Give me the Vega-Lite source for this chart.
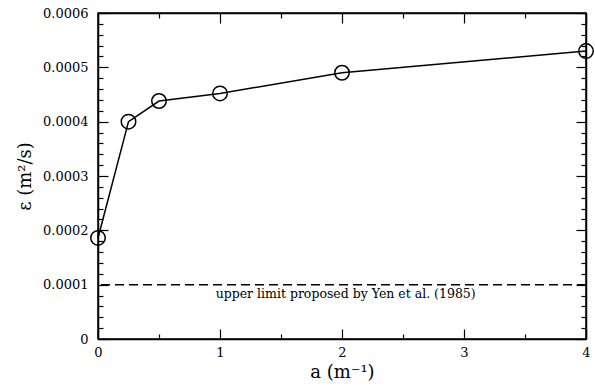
{
  "$schema": "https://vega.github.io/schema/vega-lite/v6.json",
  "autosize": "none",
  "width": 488,
  "height": 326,
  "padding": {"left": 98, "top": 13, "right": 9, "bottom": 52},
  "background": "white",
  "config": {
    "font": "DejaVu Serif",
    "view": {"stroke": "black", "strokeWidth": 1.5},
    "axis": {
      "domainColor": "black",
      "domainWidth": 1.5,
      "tickColor": "black",
      "tickWidth": 1.2,
      "grid": false,
      "labelFont": "DejaVu Serif",
      "labelFontSize": 13,
      "labelColor": "black",
      "titleFont": "DejaVu Serif",
      "titleFontSize": 18,
      "titleFontWeight": "normal",
      "titleColor": "black"
    }
  },
  "datasets": {
    "eps": [
      {"a": 0, "eps": 0.000186},
      {"a": 0.25, "eps": 0.0004},
      {"a": 0.5, "eps": 0.000438},
      {"a": 1, "eps": 0.000452},
      {"a": 2, "eps": 0.00049},
      {"a": 4, "eps": 0.00053}
    ],
    "note": [
      {"a": 2.03, "eps": 0.0001, "label": "upper limit proposed by Yen et al. (1985)"}
    ]
  },
  "layer": [
    {
      "data": {"name": "eps"},
      "mark": {"type": "line", "color": "black", "strokeWidth": 1.5},
      "encoding": {
        "x": {
          "field": "a", "type": "quantitative",
          "scale": {"domain": [0, 4], "nice": false, "zero": false},
          "axis": {
            "orient": "bottom",
            "title": "a (m⁻¹)",
            "titlePadding": 4,
            "values": [0, 0.5, 1, 1.5, 2, 2.5, 3, 3.5, 4],
            "tickSize": {"condition": {"test": "datum.value % 1 === 0", "value": -10}, "value": -5},
            "labelExpr": "datum.value % 1 === 0 ? format(datum.value, 'd') : ''",
            "labelPadding": 17,
            "labelFlush": false
          }
        },
        "y": {
          "field": "eps", "type": "quantitative",
          "scale": {"domain": [0, 0.0006], "nice": false, "zero": true},
          "axis": {
            "orient": "left",
            "title": "ε (m²/s)",
            "titlePadding": 8,
            "values": [0, 0.00002, 0.00004, 0.00006, 0.00008, 0.0001, 0.00012, 0.00014, 0.00016, 0.00018, 0.0002, 0.00022, 0.00024, 0.00026, 0.00028, 0.0003, 0.00032, 0.00034, 0.00036, 0.00038, 0.0004, 0.00042, 0.00044, 0.00046, 0.00048, 0.0005, 0.00052, 0.00054, 0.00056, 0.00058, 0.0006],
            "tickSize": {"condition": {"test": "abs(datum.value * 10000 - round(datum.value * 10000)) < 0.001", "value": -10}, "value": -5},
            "labelExpr": "abs(datum.value * 10000 - round(datum.value * 10000)) < 0.001 ? (datum.value == 0 ? '0' : format(datum.value, '.4f')) : ''",
            "labelPadding": 20,
            "labelFlush": false
          }
        }
      }
    },
    {
      "data": {"name": "eps"},
      "mark": {"type": "point", "shape": "circle", "filled": false, "color": "black", "size": 210, "strokeWidth": 1.5, "opacity": 1},
      "encoding": {
        "x": {
          "field": "a", "type": "quantitative",
          "scale": {"domain": [0, 4], "nice": false, "zero": false},
          "axis": {
            "orient": "top",
            "title": null,
            "labels": false,
            "values": [0, 0.5, 1, 1.5, 2, 2.5, 3, 3.5, 4],
            "tickSize": {"condition": {"test": "datum.value % 1 === 0", "value": -10}, "value": -5}
          }
        },
        "y": {
          "field": "eps", "type": "quantitative",
          "scale": {"domain": [0, 0.0006], "nice": false, "zero": true},
          "axis": {
            "orient": "right",
            "title": null,
            "labels": false,
            "values": [0, 0.00002, 0.00004, 0.00006, 0.00008, 0.0001, 0.00012, 0.00014, 0.00016, 0.00018, 0.0002, 0.00022, 0.00024, 0.00026, 0.00028, 0.0003, 0.00032, 0.00034, 0.00036, 0.00038, 0.0004, 0.00042, 0.00044, 0.00046, 0.00048, 0.0005, 0.00052, 0.00054, 0.00056, 0.00058, 0.0006],
            "tickSize": {"condition": {"test": "abs(datum.value * 10000 - round(datum.value * 10000)) < 0.001", "value": -10}, "value": -5}
          }
        }
      }
    },
    {
      "data": {"name": "note"},
      "mark": {"type": "rule", "color": "black", "strokeWidth": 1.5, "strokeDash": [9, 5]},
      "encoding": {
        "y": {"field": "eps", "type": "quantitative", "axis": null}
      }
    },
    {
      "data": {"name": "note"},
      "mark": {"type": "text", "font": "DejaVu Serif", "fontSize": 12.5, "color": "black", "baseline": "top", "dy": 3, "align": "center"},
      "encoding": {
        "x": {"field": "a", "type": "quantitative", "axis": null},
        "y": {"field": "eps", "type": "quantitative", "axis": null},
        "text": {"field": "label"}
      }
    }
  ],
  "resolve": {"axis": {"x": "independent", "y": "independent"}}
}
